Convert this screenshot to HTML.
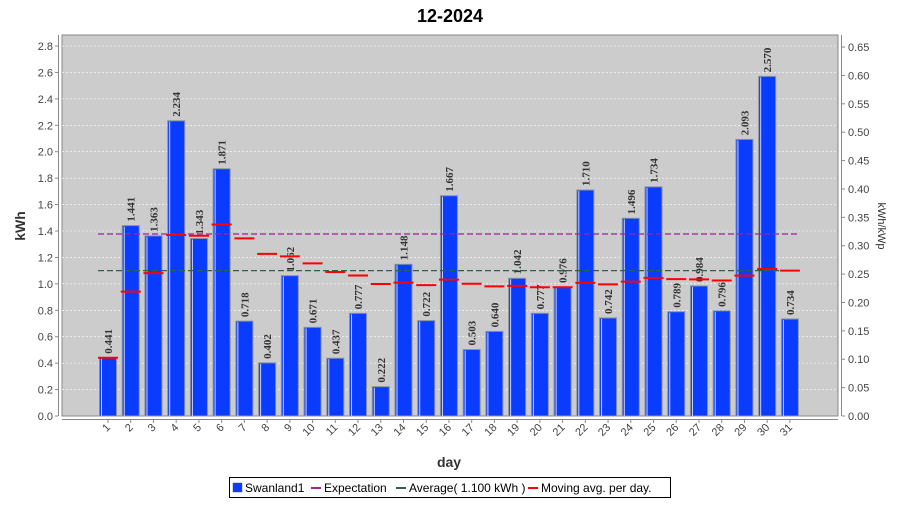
<!DOCTYPE html>
<html><head><meta charset="utf-8"><style>
body{margin:0;background:#fff;width:900px;height:500px;overflow:hidden}
svg text{font-family:"Liberation Sans",sans-serif}
svg text.v{font-family:"Liberation Serif",serif}
</style></head><body>
<svg id="s" width="900" height="500" xmlns="http://www.w3.org/2000/svg">
<text x="450" y="22" text-anchor="middle" font-size="18" font-weight="bold">12-2024</text>
<rect x="62" y="35" width="776" height="381" fill="#cccccc" stroke="#888" stroke-width="1"/>
<g id="g"></g>
<rect x="229.5" y="477.5" width="441" height="20" fill="#fff" stroke="#000"/>
<rect x="233" y="483" width="9" height="9" fill="#0a3cff" stroke="#555" stroke-width="0.5"/>
<text x="245" y="492" font-size="12">Swanland1</text>
<line x1="311" y1="488" x2="321" y2="488" stroke="#a020a0" stroke-width="2"/>
<text x="324" y="492" font-size="12">Expectation</text>
<line x1="396" y1="488" x2="406" y2="488" stroke="#2f5f4f" stroke-width="2"/>
<text x="409" y="492" font-size="12">Average( 1.100 kWh )</text>
<line x1="528" y1="488" x2="538" y2="488" stroke="#ff0000" stroke-width="2"/>
<text x="541" y="492" font-size="12">Moving avg. per day.</text>
<text x="449" y="467" text-anchor="middle" font-size="14" font-weight="bold" fill="#333">day</text>
<text transform="translate(25,226) rotate(-90)" text-anchor="middle" font-size="14" font-weight="bold" fill="#333">kWh</text>
<text transform="translate(878,226) rotate(90)" text-anchor="middle" font-size="11" fill="#333">kWh/kWp</text>
</svg>
<script>
var v=[0.441,1.441,1.363,2.234,1.343,1.871,0.718,0.402,1.062,0.671,0.437,0.777,0.222,1.148,0.722,1.667,0.503,0.640,1.042,0.777,0.976,1.710,0.742,1.496,1.734,0.789,0.984,0.796,2.093,2.570,0.734];
var Y=function(k){return 416-k*132.14};
var h='';
h+='<line x1="58.5" y1="35" x2="58.5" y2="416" stroke="#888"/>';
for(var i=0;i<=14;i++){var k=i*0.2,y=Y(k);
 if(i>0)h+='<line x1="62" y1="'+y+'" x2="838" y2="'+y+'" stroke="#fff" stroke-width="0.6" stroke-dasharray="2,2"/>';
 h+='<line x1="55" y1="'+y+'" x2="58" y2="'+y+'" stroke="#888"/><text x="53" y="'+(y+4)+'" text-anchor="end" font-size="11" fill="#444">'+k.toFixed(1)+'</text>';}
h+='<line x1="841.5" y1="35" x2="841.5" y2="416" stroke="#888"/>';
for(var i=0;i<=13;i++){var y=416-i*28.38;
 h+='<line x1="842" y1="'+y+'" x2="845" y2="'+y+'" stroke="#888"/><text x="848" y="'+(y+4)+'" font-size="11" fill="#444">'+(i*0.05).toFixed(2)+'</text>';}
h+='<line x1="62" y1="419.5" x2="838" y2="419.5" stroke="#888"/>';
var ye=234, ya=Y(1.1);
var sum=0;
for(var i=0;i<31;i++){
 var cx=108+i*22.73, y=Y(v[i]);
 h+='<rect x="'+(cx-8.5)+'" y="'+y+'" width="17" height="'+(416-y)+'" fill="#0a3cff" stroke="#8890a0" stroke-width="1"/>';
 h+='<line x1="'+(cx-6.5)+'" y1="'+(y+1)+'" x2="'+(cx-6.5)+'" y2="416" stroke="#c8d4ff" stroke-width="1"/>';
 h+='<text class="v" transform="translate('+(cx+4)+','+(y-4)+') rotate(-90)" font-size="11" font-weight="bold" fill="#333">'+v[i].toFixed(3)+'</text>';
 h+='<line x1="'+cx+'" y1="420" x2="'+cx+'" y2="423" stroke="#888"/>';
 h+='<text transform="translate('+(cx+3)+',428) rotate(-45)" text-anchor="end" font-size="11" fill="#444">'+(i+1)+'</text>';
}
h+='<line x1="98" y1="'+ye+'" x2="800" y2="'+ye+'" stroke="#a020a0" stroke-width="1.2" stroke-dasharray="6,3"/>';
h+='<line x1="98" y1="'+ya+'" x2="800" y2="'+ya+'" stroke="#2f5f4f" stroke-width="1.2" stroke-dasharray="6,3"/>';
for(var i=0;i<31;i++){sum+=v[i];var cx=108+i*22.73,y=Y(sum/(i+1));
 h+='<line x1="'+(cx-10)+'" y1="'+y+'" x2="'+(cx+10)+'" y2="'+y+'" stroke="#ff0000" stroke-width="2"/>';}
document.getElementById('g').innerHTML=h;
</script>
</body></html>
